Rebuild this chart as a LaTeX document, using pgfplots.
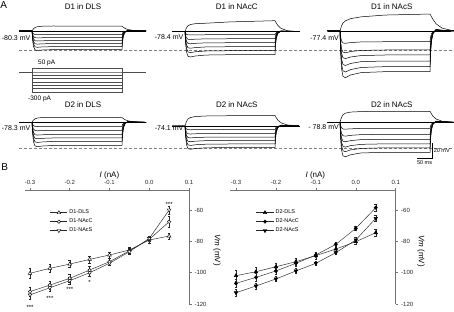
\documentclass[border=0pt]{standalone}
\usepackage{fontspec}
\setmainfont{Liberation Sans}
\usepackage{pgfplots}
\usepackage{pgfplotstable}
\pgfplotsset{compat=1.18}
\newcommand\fsz[1]{\fontsize{#1}{#1}\selectfont}

% ---------- panel A traces: time (ms, pulse 0-300) vs voltage relative to resting potential (mV)
\pgfplotstableread{
t p n1 n2 n3 n4 n5 n6
-43 0 0 0 0 0 0 0
0 0 0 0 0 0 0 0
2 1.4 -2.3 -4.3 -6.2 -8.1 -10.1 -12.1
5 3.1 -4.0 -7.6 -11.0 -14.5 -18.0 -21.4
10 4.8 -4.9 -9.2 -13.4 -17.6 -21.8 -26.0
18 5.9 -5.0 -9.5 -13.8 -18.1 -22.5 -26.8
35 6.6 -4.9 -9.3 -13.5 -17.7 -21.9 -26.2
70 6.9 -4.8 -9.1 -13.2 -17.3 -21.6 -25.7
150 6.8 -4.8 -9.0 -13.1 -17.2 -21.4 -25.5
300 6.6 -4.8 -9.0 -13.1 -17.2 -21.4 -25.5
302 5.9 -2.6 -5.0 -7.2 -9.5 -11.8 -14.0
305 5.0 -1.2 -2.3 -3.3 -4.3 -5.4 -6.4
310 3.6 -0.3 -0.6 -0.9 -1.2 -1.5 -1.8
320 2.0 0.2 0.4 0.5 0.7 0.9 1.0
340 0.7 0.1 0.2 0.3 0.3 0.4 0.5
380 0 0 0 0 0 0 0
}\tA
\pgfplotstableread{
t p n1 n2 n3 n4 n5 n6
-43 0 0 0 0 0 0 0
0 0 0 0 0 0 0 0
2 2.3 -2.0 -4.8 -7.5 -10.3 -13.0 -15.7
5 5.3 -3.6 -8.6 -13.4 -18.2 -23.0 -27.9
10 8.2 -4.4 -10.4 -16.2 -22.1 -27.9 -33.9
18 9.9 -4.5 -10.7 -16.7 -22.8 -28.8 -34.9
35 11.1 -4.3 -10.3 -16.0 -21.9 -27.6 -33.5
70 11.7 -4.2 -9.9 -15.4 -21.0 -26.6 -32.2
150 13.5 -4.1 -9.7 -15.2 -20.7 -26.2 -31.7
300 15.2 -4.1 -9.7 -15.2 -20.7 -26.2 -31.7
302 13.7 -2.3 -5.3 -8.4 -11.4 -14.4 -17.4
305 11.4 -1.0 -2.4 -3.8 -5.2 -6.6 -7.9
310 8.4 -0.3 -0.7 -1.1 -1.4 -1.8 -2.2
320 4.6 0.2 0.4 0.6 0.8 1.0 1.3
340 1.5 0.1 0.2 0.3 0.4 0.5 0.6
380 0 0 0 0 0 0 0
}\tB
\pgfplotstableread{
t p n1 n2 n3 n4 n5 n6
-43 0 0 0 0 0 0 0
0 0 0 0 0 0 0 0
2 3.0 -7.7 -13.5 -17.1 -21.4 -25.5 -29.0
5 7.0 -13.6 -24.1 -30.5 -38.1 -45.3 -51.6
10 11.0 -16.5 -29.2 -37.0 -46.2 -54.9 -62.6
18 14.0 -17.0 -30.1 -38.1 -47.6 -56.6 -64.5
35 17.0 -16.0 -28.3 -35.9 -44.8 -53.3 -60.7
70 19.5 -15.1 -26.8 -33.9 -42.3 -50.3 -57.4
150 22.0 -14.8 -26.2 -33.1 -41.4 -49.2 -56.1
300 23.4 -14.8 -26.2 -33.1 -41.4 -49.2 -56.1
302 22.0 -8.1 -14.4 -18.2 -22.8 -27.1 -30.9
305 19.5 -3.7 -6.6 -8.3 -10.4 -12.3 -14.0
310 16.0 -1.0 -1.8 -2.3 -2.9 -3.4 -3.9
320 10.0 0.6 1.0 1.3 1.7 2.0 2.2
340 4.0 0.3 0.5 0.7 0.8 1.0 1.1
380 0 0 0 0 0 0 0
}\tC
\pgfplotstableread{
t p n1 n2 n3 n4 n5 n6
-43 0 0 0 0 0 0 0
0 0 0 0 0 0 0 0
2 1.4 -2.6 -5.3 -7.9 -10.2 -12.5 -15.1
5 3.1 -4.6 -9.4 -14.1 -18.2 -22.2 -26.9
10 4.8 -5.6 -11.3 -17.1 -22.0 -27.0 -32.6
18 5.9 -5.8 -11.7 -17.6 -22.7 -27.8 -33.6
35 6.6 -5.7 -11.4 -17.2 -22.1 -27.1 -32.7
70 6.9 -5.5 -11.1 -16.8 -21.6 -26.4 -32.0
150 6.8 -5.5 -11.0 -16.6 -21.4 -26.2 -31.7
300 6.6 -5.5 -11.0 -16.6 -21.4 -26.2 -31.7
302 5.9 -3.0 -6.1 -9.1 -11.8 -14.4 -17.4
305 5.0 -1.4 -2.8 -4.2 -5.4 -6.6 -7.9
310 3.6 -0.4 -0.8 -1.2 -1.5 -1.8 -2.2
320 2.0 0.2 0.4 0.7 0.9 1.0 1.3
340 0.7 0.1 0.2 0.3 0.4 0.5 0.6
380 0 0 0 0 0 0 0
}\tD
\pgfplotstableread{
t p n1 n2 n3 n4 n5 n6
-43 0 0 0 0 0 0 0
0 0 0 0 0 0 0 0
2 2.8 -2.3 -5.0 -7.4 -9.7 -12.1 -14.4
5 6.2 -4.2 -8.9 -13.1 -17.3 -21.4 -25.7
10 9.7 -5.0 -10.8 -15.9 -21.0 -26.0 -31.1
18 11.7 -5.2 -11.1 -16.4 -21.6 -26.8 -32.1
35 13.1 -5.0 -10.7 -15.9 -20.9 -25.9 -31.0
70 13.8 -4.9 -10.4 -15.4 -20.2 -25.1 -30.1
150 14.2 -4.8 -10.3 -15.2 -20.0 -24.8 -29.7
300 14.5 -4.8 -10.3 -15.2 -20.0 -24.8 -29.7
302 13.1 -2.6 -5.7 -8.4 -11.0 -13.6 -16.3
305 10.9 -1.2 -2.6 -3.8 -5.0 -6.2 -7.4
310 8.0 -0.3 -0.7 -1.1 -1.4 -1.7 -2.1
320 4.4 0.2 0.4 0.6 0.8 1.0 1.2
340 1.5 0.1 0.2 0.3 0.4 0.5 0.6
380 0 0 0 0 0 0 0
}\tE
\pgfplotstableread{
t p n1 n2 n3 n4 n5 n6
-43 0 0 0 0 0 0 0
0 0 0 0 0 0 0 0
2 3.0 -4.3 -8.6 -12.1 -15.4 -18.2 -21.4
5 6.7 -7.6 -15.3 -21.5 -27.4 -32.4 -38.1
10 10.4 -9.2 -18.5 -26.1 -33.2 -39.3 -46.2
18 12.6 -9.5 -19.1 -26.9 -34.2 -40.5 -47.6
35 14.1 -9.0 -18.0 -25.3 -32.2 -38.1 -44.8
70 14.8 -8.5 -17.0 -23.9 -30.4 -36.0 -42.3
150 15.2 -8.3 -16.6 -23.4 -29.7 -35.2 -41.4
300 15.2 -8.3 -16.6 -23.4 -29.7 -35.2 -41.4
302 13.7 -4.6 -9.1 -12.9 -16.3 -19.4 -22.8
305 11.4 -2.1 -4.2 -5.9 -7.4 -8.8 -10.4
310 8.4 -0.6 -1.2 -1.6 -2.1 -2.5 -2.9
320 4.6 0.3 0.7 0.9 1.2 1.4 1.7
340 1.5 0.2 0.3 0.5 0.6 0.7 0.8
380 0 0 0 0 0 0 0
}\tF
% current steps (pA)
\pgfplotstableread{
t c1 c2 c3 c4 c5 c6 c7 c8
-43 0 0 0 0 0 0 0 0
0 0 0 0 0 0 0 0 0
0 50 0 -50 -100 -150 -200 -250 -300
300 50 0 -50 -100 -150 -200 -250 -300
300 0 0 0 0 0 0 0 0
380 0 0 0 0 0 0 0 0
}\tI

% ---------- panel B I-V data: current (nA), Vm (mV), SEM
\pgfplotstableread{
x y e
-0.30 -100.4 3.0
-0.25 -97.2 2.5
-0.20 -94.5 2.3
-0.15 -91.5 2.2
-0.10 -88.7 2.0
-0.05 -85.5 1.8
0.00 -79.1 1.8
0.05 -76.6 2.0
}\DoneDLS
\pgfplotstableread{
x y e
-0.30 -112.1 3.0
-0.25 -107.9 2.5
-0.20 -103.6 2.5
-0.15 -98.3 2.2
-0.10 -93.0 2.0
-0.05 -86.0 1.5
0.00 -78.7 1.5
0.05 -67.5 3.5
}\DoneNAcC
\pgfplotstableread{
x y e
-0.30 -114.2 2.5
-0.25 -109.6 2.5
-0.20 -105.1 2.0
-0.15 -100.0 2.0
-0.10 -94.0 1.5
-0.05 -86.6 1.5
0.00 -78.1 1.5
0.05 -60.0 2.5
}\DoneNAcS
\pgfplotstableread{
x y e
-0.30 -101.9 3.5
-0.25 -99.4 3.0
-0.20 -96.2 2.5
-0.15 -93.0 2.5
-0.10 -89.1 2.0
-0.05 -84.9 1.5
0.00 -80.2 1.5
0.05 -74.5 2.0
}\DtwoDLS
\pgfplotstableread{
x y e
-0.30 -106.8 2.5
-0.25 -103.0 2.5
-0.20 -98.9 2.0
-0.15 -94.0 2.0
-0.10 -88.7 1.5
-0.05 -81.9 1.2
0.00 -71.7 1.2
0.05 -58.5 2.5
}\DtwoNAcC
\pgfplotstableread{
x y e
-0.30 -112.8 2.2
-0.25 -108.5 2.0
-0.20 -104.0 1.5
-0.15 -98.9 1.5
-0.10 -94.0 1.2
-0.05 -87.2 1.2
0.00 -79.1 1.5
0.05 -65.3 2.0
}\DtwoNAcS

\pgfplotsset{
  traceax/.style={hide axis, clip=false, x=0.3pt, y=0.725pt,
    xmin=0, xmax=300, ymin=-10, ymax=0, anchor=north west},
  tr/.style={black, line width=0.5pt, no markers},
  dashl/.style={gray, line width=0.5pt, dash pattern=on 3pt off 2pt, no markers},
  bax/.style={scale only axis, height=114pt, xmax=0.1, ymin=-120, ymax=-47.2,
    anchor=south west, clip=false,
    axis x line*=top, axis y line*=right,
    axis line style={black!55, line width=0.55pt},
    xtick={-0.3,-0.2,-0.1,0,0.1}, xticklabels={-0.3,-0.2,-0.1,0.0,0.1},
    ytick={-120,-100,-80,-60}, yticklabels={-120,-100,-80,-60},
    tick align=outside, major tick length=2.5pt, minor tick num=0,
    tick style={black!55, line width=0.55pt},
    ticklabel style={font=\fsz{6}, text=black!85},
    xticklabel style={yshift=-0.5pt},
    yticklabel style={xshift=-0.5pt},
    every axis x label/.style={at={(axis description cs:0.515,1)}, anchor=center, yshift=15pt, font=\fsz{8}},
    xlabel={\textit{I} (nA)},
    legend style={anchor=north west, draw=none, fill=none, font=\fsz{5.5},
      inner sep=0pt, nodes={inner sep=1.8pt}, legend cell align=left},
  },
  ivline/.style={black!85, line width=0.45pt,
    error bars/y dir=both, error bars/y explicit,
    error bars/error bar style={black!85, line width=0.4pt},
    error bars/error mark options={rotate=90, mark size=1.3pt, line width=0.4pt}},
}

\begin{document}
\begin{tikzpicture}[x=1pt,y=1pt]
\useasboundingbox (0,0) rectangle (454,311);

% panel letters
\node[font=\fsz{10}] at (3.8,305.5) {A};
\node[font=\fsz{10}] at (4.8,144) {B};

% titles
\node[font=\fsz{8}] at (83,304) {D1 in DLS};
\node[font=\fsz{8}] at (236.7,304) {D1 in NAcC};
\node[font=\fsz{8}] at (391.7,304) {D1 in NAcS};
\node[font=\fsz{8}] at (83,206) {D2 in DLS};
\node[font=\fsz{8}] at (236.7,206) {D2 in NAcS};
\node[font=\fsz{8}] at (391.7,206.5) {D2 in NAcS};

% resting potentials
\node[font=\fsz{7}, anchor=east, inner sep=0pt] at (30.5,273.3) {-80.3 mV};
\node[font=\fsz{7}, anchor=east, inner sep=0pt] at (183.5,274.3) {-78.4 mV};
\node[font=\fsz{7}, anchor=east, inner sep=0pt] at (339,273.3) {-77.4 mV};
\node[font=\fsz{7}, anchor=east, inner sep=0pt] at (30.5,183) {-78.3 mV};
\node[font=\fsz{7}, anchor=east, inner sep=0pt] at (183.5,182.7) {-74.1 mV};
\node[font=\fsz{7}, anchor=east, inner sep=0pt] at (339,183.7) {- 78.8 mV};

% current step labels
\node[font=\fsz{6.5}, anchor=west, inner sep=0pt] at (38,248) {50 pA};
\node[font=\fsz{6.5}, anchor=west, inner sep=0pt] at (28,212) {-300 pA};

% y-axis titles of panel B (text reads top to bottom)
\node[font=\fsz{8}, rotate=-90] at (217,61) {\textit{Vm} (mV)};
\node[font=\fsz{8}, rotate=-90] at (421,60) {\textit{Vm} (mV)};

% ---- D1 in DLS
\begin{axis}[traceax, at={(32pt,280pt)}]
\addplot[dashl] coordinates {(-43.3,-27.0) (1406.7,-27.0)};
\addplot[tr] coordinates {(-43,0) (380,0)};
\pgfplotsinvokeforeach{p,n1,n2,n3,n4,n5,n6}{\addplot[tr] table[x=t,y=#1]{\tA};}
\end{axis}
% ---- current steps
\begin{axis}[hide axis, clip=false, x=0.3pt, y=0.0667pt, xmin=0, xmax=300, ymin=-300, ymax=0,
  anchor=north west, at={(32pt,239pt)}]
\pgfplotsinvokeforeach{c1,c2,c3,c4,c5,c6,c7,c8}{\addplot[black!70, line width=0.4pt, no markers] table[x=t,y=#1]{\tI};}
\end{axis}
% ---- D1 in NAcC
\begin{axis}[traceax, at={(185pt,279.3pt)}]
\addplot[tr] coordinates {(-40,0) (383,0)};
\pgfplotsinvokeforeach{p,n1,n2,n3,n4,n5,n6}{\addplot[tr] table[x=t,y=#1]{\tB};}
\end{axis}
% ---- D1 in NAcS
\begin{axis}[traceax, at={(340pt,280pt)}]
\addplot[tr] coordinates {(-40,0) (370,0)};
\pgfplotsinvokeforeach{p,n1,n2,n3,n4,n5,n6}{\addplot[tr] table[x=t,y=#1]{\tC};}
\end{axis}
% ---- D2 in DLS
\begin{axis}[traceax, at={(32pt,188.7pt)}]
\addplot[dashl] coordinates {(-43.3,-35.7) (1406.7,-35.7)};
\addplot[tr] coordinates {(-43,0) (380,0)};
\pgfplotsinvokeforeach{p,n1,n2,n3,n4,n5,n6}{\addplot[tr] table[x=t,y=#1]{\tD};}
\end{axis}
% ---- D2 in NAcS (middle)
\begin{axis}[traceax, at={(185pt,185pt)}]
\addplot[tr] coordinates {(-40,0) (383,0)};
\pgfplotsinvokeforeach{p,n1,n2,n3,n4,n5,n6}{\addplot[tr] table[x=t,y=#1]{\tE};}
\end{axis}
% ---- D2 in NAcS (right) + scale bar
\begin{axis}[traceax, at={(340pt,188.7pt)}]
\addplot[tr] coordinates {(-40,0) (370,0)};
\pgfplotsinvokeforeach{p,n1,n2,n3,n4,n5,n6}{\addplot[tr] table[x=t,y=#1]{\tF};}
\addplot[black, line width=0.6pt, no markers] coordinates {(256.7,-49.2) (306.7,-49.2) (306.7,-29.2)};
\node[font=\fsz{5.5}, anchor=west, inner sep=0pt] at (axis cs:312,-39.5) {20 mV};
\node[font=\fsz{5.5}, anchor=north, inner sep=0pt] at (axis cs:281.7,-52.5) {50 ms};
\end{axis}

% ---- B left
\begin{axis}[bax, at={(25pt,7pt)}, width=164pt, xmin=-0.3126,
  legend style={at={(0.152,0.842)}}]
\addplot[ivline, mark=triangle*, mark size=2.1pt, mark options={fill=white, draw=black, solid}]
  table[x=x,y=y,y error=e]{\DoneDLS};
\addlegendentry{D1-DLS}
\addplot[ivline, mark=*, mark size=1.7pt, mark options={fill=white, draw=black, solid}]
  table[x=x,y=y,y error=e]{\DoneNAcC};
\addlegendentry{D1-NAcC}
\addplot[ivline, mark=triangle*, mark size=2.1pt, mark options={fill=white, draw=black, solid, rotate=180}]
  table[x=x,y=y,y error=e]{\DoneNAcS};
\addlegendentry{D1-NAcS}
\node[font=\fsz{6}, inner sep=0pt] at (axis cs:-0.30,-121.9) {***};
\node[font=\fsz{6}, inner sep=0pt] at (axis cs:-0.25,-116.3) {***};
\node[font=\fsz{6}, inner sep=0pt] at (axis cs:-0.20,-110.6) {***};
\node[font=\fsz{6}, inner sep=0pt] at (axis cs:-0.15,-106.1) {*};
\node[font=\fsz{6}, inner sep=0pt] at (axis cs:0.05,-56.1) {***};
\end{axis}

% ---- B right
\begin{axis}[bax, at={(230pt,7pt)}, width=165.7pt, xmin=-0.315,
  legend style={at={(0.157,0.842)}}]
\addplot[ivline, mark=triangle*, mark size=2.1pt, mark options={fill=black, draw=black, solid}]
  table[x=x,y=y,y error=e]{\DtwoDLS};
\addlegendentry{D2-DLS}
\addplot[ivline, mark=*, mark size=1.7pt, mark options={fill=black, draw=black, solid}]
  table[x=x,y=y,y error=e]{\DtwoNAcC};
\addlegendentry{D2-NAcC}
\addplot[ivline, mark=triangle*, mark size=2.1pt, mark options={fill=black, draw=black, solid, rotate=180}]
  table[x=x,y=y,y error=e]{\DtwoNAcS};
\addlegendentry{D2-NAcS}
\end{axis}
\end{tikzpicture}
\end{document}
